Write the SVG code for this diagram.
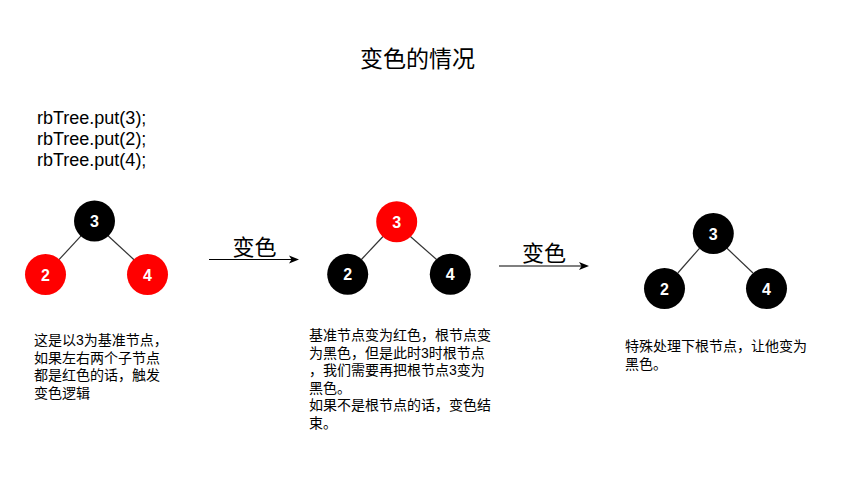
<svg xmlns="http://www.w3.org/2000/svg" width="850" height="481" viewBox="0 0 850 481">
<style>
text{font-family:"Liberation Sans","Noto Sans CJK SC",sans-serif;fill:#000}
.title{font-size:23px;text-anchor:middle}
.code{font-size:18px}
.desc{font-size:14px}
.lbl{font-size:22px;text-anchor:middle}
.num{font-size:16px;font-weight:bold;fill:#fff;text-anchor:middle}
.red{fill:#ff0000}
.blk{fill:#000}
.edge{stroke:#333;stroke-width:1.2;fill:none}
.arr{stroke:#000;stroke-width:1.2;fill:none}
.head{fill:#000}
</style>
<rect width="850" height="481" fill="#fff"/>
<text class="title" x="417.5" y="67">变色的情况</text>
<g id="code">
<text class="code" x="37" y="124">rbTree.put(3);</text>
<text class="code" x="37" y="145">rbTree.put(2);</text>
<text class="code" x="37" y="166">rbTree.put(4);</text>
</g>
<g id="connectors">
<line class="edge" x1="81" y1="235.8" x2="59" y2="259.7"/>
<line class="edge" x1="108" y1="235.8" x2="134" y2="259.7"/>
<line class="edge" x1="383" y1="236.5" x2="361.4" y2="259.5"/>
<line class="edge" x1="410.4" y1="236.5" x2="436.6" y2="259.5"/>
<line class="edge" x1="699.5" y1="248.3" x2="677.8" y2="273"/>
<line class="edge" x1="727" y1="248.3" x2="753" y2="273"/>
<line class="arr" x1="209" y1="259.5" x2="292" y2="259.5"/>
<path class="head" d="M299,259.5 L289,255.5 L291.5,259.5 L289,263.5 Z"/>
<line class="arr" x1="499" y1="266" x2="582" y2="266"/>
<path class="head" d="M589,266 L579,262 L581.5,266 L579,270 Z"/>
</g>
<text class="lbl" x="254.5" y="255">变色</text>
<text class="lbl" x="544" y="261">变色</text>
<g id="t1-root"><circle class="blk" cx="94.5" cy="221" r="20.5"/><text class="num" x="94.5" y="227">3</text></g>
<g id="t1-left"><circle class="red" cx="45.5" cy="274.5" r="20.5"/><text class="num" x="45.5" y="280.5">2</text></g>
<g id="t1-right"><circle class="red" cx="147.5" cy="274.5" r="20.5"/><text class="num" x="147.5" y="280.5">4</text></g>
<g id="t2-root"><circle class="red" cx="396.7" cy="221.7" r="20.5"/><text class="num" x="396.7" y="227.7">3</text></g>
<g id="t2-left"><circle class="blk" cx="347.7" cy="274.3" r="20.5"/><text class="num" x="347.7" y="280.3">2</text></g>
<g id="t2-right"><circle class="blk" cx="450.3" cy="274.3" r="20.5"/><text class="num" x="450.3" y="280.3">4</text></g>
<g id="t3-root"><circle class="blk" cx="713.3" cy="233.5" r="20.5"/><text class="num" x="713.3" y="239.5">3</text></g>
<g id="t3-left"><circle class="blk" cx="664.5" cy="288.5" r="20.5"/><text class="num" x="664.5" y="294.5">2</text></g>
<g id="t3-right"><circle class="blk" cx="766.5" cy="288.5" r="20.5"/><text class="num" x="766.5" y="294.5">4</text></g>
<g id="desc1">
<text class="desc" x="34" y="345">这是以3为基准节点，</text>
<text class="desc" x="34" y="362.5">如果左右两个子节点</text>
<text class="desc" x="34" y="380">都是红色的话，触发</text>
<text class="desc" x="34" y="397.5">变色逻辑</text>
</g>
<g id="desc2">
<text class="desc" x="309" y="340">基准节点变为红色，根节点变</text>
<text class="desc" x="309" y="357.5">为黑色，但是此时3时根节点</text>
<text class="desc" x="309" y="375">，我们需要再把根节点3变为</text>
<text class="desc" x="309" y="392.5">黑色。</text>
<text class="desc" x="309" y="410">如果不是根节点的话，变色结</text>
<text class="desc" x="309" y="427.5">束。</text>
</g>
<g id="desc3">
<text class="desc" x="625" y="351">特殊处理下根节点，让他变为</text>
<text class="desc" x="625" y="368.5">黑色。</text>
</g>
</svg>
